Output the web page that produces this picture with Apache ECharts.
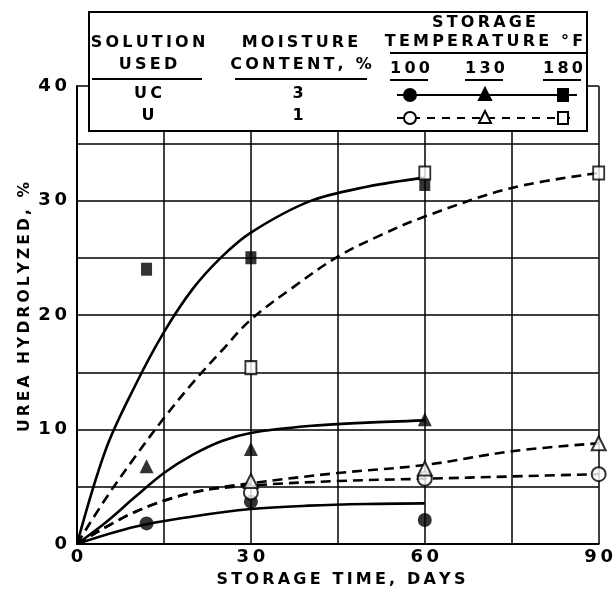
<!DOCTYPE html>
<html>
<head>
<meta charset="utf-8">
<script src="https://cdn.jsdelivr.net/npm/echarts@6/dist/echarts.min.js"></script>
<style>
  html, body { margin: 0; padding: 0; background: #fff; }
  #chart { width: 616px; height: 595px; }
</style>
</head>
<body>
<div id="chart"></div>
<script>
// tick labels
const xTickLabels = [0, 30, 60, 90]
const yTickLabels = [0, 10, 20, 30, 40]

// curves (days, % hydrolyzed)
const curveUC100 = [[0, 0], [10, 1.5], [20, 2.4], [30, 3.05], [40, 3.35], [50, 3.5], [60, 3.55]]
const curveUC130 = [[0, 0], [5, 1.9], [10, 4.1], [15, 6.2], [20, 7.8], [25, 9.0], [30, 9.7], [40, 10.3], [50, 10.6], [60, 10.8]]
const curveUC180 = [[0, 0], [5, 8.3], [10, 13.8], [15, 18.5], [20, 22.3], [25, 25.1], [30, 27.2], [40, 29.9], [50, 31.2], [60, 32.0]]
const curveU100 = [[0, 0], [10, 2.8], [20, 4.5], [30, 5.1], [45, 5.5], [60, 5.7], [75, 5.9], [90, 6.1]]
const curveU130 = [[0, 0], [10, 2.8], [20, 4.5], [30, 5.3], [45, 6.2], [60, 6.9], [75, 8.1], [90, 8.8]]
const curveU180 = [[0, 0], [5, 4.0], [10, 7.6], [15, 11], [20, 14.1], [25, 16.9], [30, 19.6], [37.5, 22.5], [45, 25.1], [52.5, 27.0], [60, 28.6], [75, 31.1], [90, 32.4]]

// measured points
const pointsUC100 = [[12, 1.8], [30, 3.7], [60, 2.1]]
const pointsUC130 = [[12, 6.8], [30, 8.3], [60, 10.9]]
const pointsUC180 = [[12, 24], [30, 25], [60, 31.4]]
const pointsU100 = [[30, 4.5], [60, 5.7], [90, 6.1]]
const pointsU130 = [[30, 5.5], [60, 6.6], [90, 8.8]]
const pointsU180 = [[30, 15.4], [60, 32.4], [90, 32.4]]

// legend table text
const solutions = ['UC', 'U']
const moistures = ['3', '1']
const temperatures = ['100', '130', '180']

const FONT = '"DejaVu Sans", sans-serif'
const spaced = s => s.split('').join('\u2009')

function curve (name, data, dashed) {
  return {
    name: name,
    type: 'line',
    data: data,
    smooth: 0.35,
    showSymbol: false,
    silent: true,
    z: 3,
    lineStyle: {
      color: '#000',
      width: 2.6,
      type: dashed ? [10, 6] : 'solid'
    }
  }
}

function points (name, data, symbol, open) {
  return {
    name: name,
    type: 'scatter',
    data: data,
    symbol: symbol,
    symbolSize: symbol === 'rect' ? [11, 13] : 14,
    clip: false,
    z: 5,
    itemStyle: {
      color: open ? '#fff' : '#000',
      borderColor: '#000',
      borderWidth: open ? 2 : 0
    }
  }
}

function text (str, x, y, size) {
  return {
    type: 'text',
    z: 110,
    style: {
      text: str,
      x: x,
      y: y,
      align: 'center',
      verticalAlign: 'middle',
      font: 'bold ' + (size || 16) + 'px ' + FONT,
      fill: '#000'
    }
  }
}

function hline (x1, x2, y, dash) {
  return {
    type: 'line',
    z: 110,
    shape: { x1: x1, y1: y, x2: x2, y2: y },
    style: { stroke: '#000', lineWidth: 2, lineDash: dash || null }
  }
}

function marker (kind, cx, cy, open) {
  const style = { fill: open ? '#fff' : '#000', stroke: '#000', lineWidth: 2 }
  if (kind === 'circle') {
    return { type: 'circle', z: 111, shape: { cx: cx, cy: cy, r: 6 }, style: style }
  }
  if (kind === 'triangle') {
    return { type: 'polygon', z: 111, shape: { points: [[cx, cy - 7], [cx - 6, cy + 5], [cx + 6, cy + 5]] }, style: style }
  }
  return { type: 'rect', z: 111, shape: { x: cx - 5, y: cy - 6, width: 10, height: 12 }, style: style }
}

const legendX = [410, 485, 563]
const legendKinds = ['circle', 'triangle', 'rect']

const graphics = [
  {
    type: 'rect',
    z: 100,
    shape: { x: 89, y: 12, width: 498, height: 119 },
    style: { fill: '#fff', stroke: '#000', lineWidth: 2 }
  },
  text(spaced('SOLUTION'), 148, 43),
  text(spaced('USED'), 148, 65),
  hline(92, 202, 79),
  text(spaced('MOISTURE'), 300, 43),
  text(spaced('CONTENT, %'), 301, 65),
  hline(235, 367, 79),
  text(spaced('STORAGE'), 484, 23),
  text(spaced('TEMPERATURE °F'), 484, 42),
  hline(390, 587, 53),
  text(spaced(solutions[0]), 148, 94),
  text(spaced(solutions[1]), 148, 116),
  text(moistures[0], 298, 94),
  text(moistures[1], 298, 116),
  hline(397, 577, 95),
  hline(397, 577, 118, [8, 7])
]
temperatures.forEach((t, i) => {
  graphics.push(text(spaced(t), legendX[i], 69))
  graphics.push(hline(legendX[i] - 20, legendX[i] + 18, 80))
  graphics.push(marker(legendKinds[i], legendX[i], 95, false))
  graphics.push(marker(legendKinds[i], legendX[i], 118, true))
})
graphics.push({
  type: 'text',
  z: 110,
  rotation: Math.PI / 2,
  x: 25,
  y: 307,
  style: {
    text: spaced('UREA HYDROLYZED, %'),
    align: 'center',
    verticalAlign: 'middle',
    font: 'bold 15.5px ' + FONT,
    fill: '#000'
  }
})
graphics.push(text(spaced('STORAGE TIME, DAYS'), 341, 580))

const options = {
  animation: false,
  backgroundColor: '#fff',
  grid: { left: 77, right: 14, top: 86, bottom: 51 },
  xAxis: {
    type: 'value',
    min: 0,
    max: 90,
    interval: 15,
    axisLine: { lineStyle: { color: '#000', width: 2 } },
    axisTick: { show: false },
    axisLabel: {
      color: '#000',
      fontFamily: FONT,
      fontWeight: 'bold',
      fontSize: 18,
      margin: 4,
      formatter: v => xTickLabels.includes(v) ? spaced(String(v)) : ''
    },
    splitLine: { show: true, lineStyle: { color: '#000', width: 1.5 } }
  },
  yAxis: {
    type: 'value',
    min: 0,
    max: 40,
    interval: 5,
    axisLine: { lineStyle: { color: '#000', width: 2 } },
    axisTick: { show: false },
    axisLabel: {
      color: '#000',
      fontFamily: FONT,
      fontWeight: 'bold',
      fontSize: 18,
      margin: 10,
      formatter: v => yTickLabels.includes(v) ? spaced(String(v)) : ''
    },
    splitLine: { show: true, lineStyle: { color: '#000', width: 1.5 } }
  },
  series: [
    curve('UC 100', curveUC100, false),
    curve('UC 130', curveUC130, false),
    curve('UC 180', curveUC180, false),
    curve('U 100', curveU100, true),
    curve('U 130', curveU130, true),
    curve('U 180', curveU180, true),
    points('UC 100 pts', pointsUC100, 'circle', false),
    points('UC 130 pts', pointsUC130, 'triangle', false),
    points('UC 180 pts', pointsUC180, 'rect', false),
    points('U 100 pts', pointsU100, 'circle', true),
    points('U 130 pts', pointsU130, 'triangle', true),
    points('U 180 pts', pointsU180, 'rect', true)
  ],
  graphic: graphics
}

const chart = echarts.init(document.getElementById('chart'))
chart.setOption(options)
</script>
</body>
</html>
